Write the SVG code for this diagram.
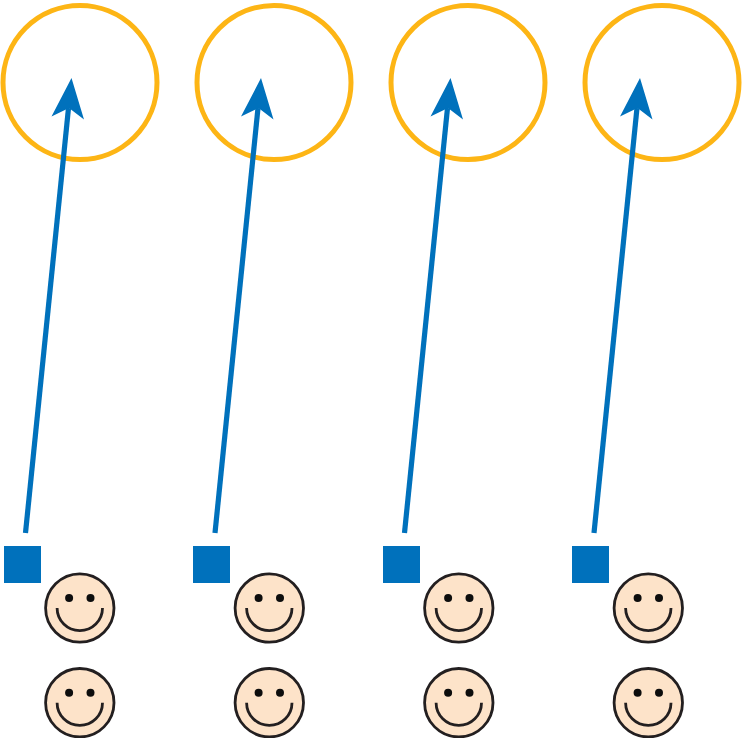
<svg xmlns="http://www.w3.org/2000/svg" width="742" height="738" viewBox="0 0 742 738">
<style>
.ring{fill:none;stroke:#fdb515;stroke-width:5}
.sq{fill:#0071bc}
.conn{fill:none;stroke:#0071bc;stroke-width:5.2}
.head{fill:#0071bc}
.face{fill:#fde3c9;stroke:#231f20;stroke-width:2.8}
.smile{fill:none;stroke:#231f20;stroke-width:2.8}
.eye{fill:#0d0d0d}
</style>
<defs>
<g id="smiley">
<circle class="face" cx="0" cy="0" r="34.200"/>
<circle class="eye" cx="-10.700" cy="-10" r="4"/>
<circle class="eye" cx="10.700" cy="-10" r="4"/>
<path class="smile" d="M-22.700 0A22.700 22.700 0 0 0 22.700 0"/>
</g>
<g id="arrow">
<path class="conn" d="M-46 455L-3 30"/>
<path class="head" d="M0 0L12.500 41.500L-2.500 30L-20 38.500Z"/>
</g>
</defs>
<g id="ring1"><circle class="ring" cx="80" cy="82.500" r="77"/></g>
<g id="ring2"><circle class="ring" cx="274" cy="82.500" r="77"/></g>
<g id="ring3"><circle class="ring" cx="468" cy="82.500" r="77"/></g>
<g id="ring4"><circle class="ring" cx="662" cy="82.500" r="77"/></g>
<g id="connectors">
<use href="#arrow" x="71.500" y="78"/>
<use href="#arrow" x="261" y="78"/>
<use href="#arrow" x="450.500" y="78"/>
<use href="#arrow" x="640" y="78"/>
</g>
<g id="square1"><rect class="sq" x="4" y="546" width="37" height="37"/></g>
<g id="square2"><rect class="sq" x="193" y="546" width="37" height="37"/></g>
<g id="square3"><rect class="sq" x="383" y="546" width="37" height="37"/></g>
<g id="square4"><rect class="sq" x="572" y="546" width="37" height="37"/></g>
<g id="face1a"><use href="#smiley" x="79.800" y="608"/></g>
<g id="face1b"><use href="#smiley" x="79.800" y="702.700"/></g>
<g id="face2a"><use href="#smiley" x="269.300" y="608"/></g>
<g id="face2b"><use href="#smiley" x="269.300" y="702.700"/></g>
<g id="face3a"><use href="#smiley" x="458.800" y="608"/></g>
<g id="face3b"><use href="#smiley" x="458.800" y="702.700"/></g>
<g id="face4a"><use href="#smiley" x="648.300" y="608"/></g>
<g id="face4b"><use href="#smiley" x="648.300" y="702.700"/></g>
</svg>
